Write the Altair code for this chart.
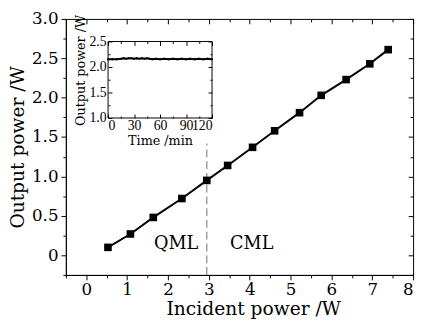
import altair as alt
import pandas as pd

# ---- data ----
incident = [0.53, 1.08, 1.64, 2.34, 2.95, 3.46, 4.07, 4.61, 5.22, 5.75, 6.36, 6.94, 7.39]
output = [0.10, 0.27, 0.48, 0.72, 0.95, 1.14, 1.37, 1.58, 1.81, 2.03, 2.23, 2.43, 2.61]

time_min = [0, 5, 10, 15, 18, 21, 24, 27, 30, 33, 36, 39, 42, 45, 48, 51, 55, 60,
            65, 70, 75, 80, 85, 90, 95, 100, 105, 110, 115, 120]
power_t = [2.15, 2.15, 2.15, 2.16, 2.17, 2.16, 2.17, 2.17, 2.16, 2.17, 2.16, 2.17,
           2.16, 2.17, 2.16, 2.15, 2.16, 2.15, 2.16, 2.15, 2.16, 2.15, 2.16, 2.15,
           2.16, 2.15, 2.16, 2.15, 2.16, 2.15]

x_ticks = [-0.5, 0, 0.5, 1, 1.5, 2, 2.5, 3, 3.5, 4, 4.5, 5, 5.5, 6, 6.5, 7, 7.5, 8]
y_ticks = [-0.25, 0, 0.25, 0.5, 0.75, 1.0, 1.25, 1.5, 1.75, 2.0, 2.25, 2.5, 2.75, 3.0]
x_domain = [-0.5, 8]
y_domain = [-0.25, 3.0]

inset_x_domain = [0, 120]
inset_y_domain = [1.0, 2.5]
inset_x_labels = [0, 30, 60, 90, 120]
inset_x_ticks = [0, 15, 30, 45, 60, 75, 90, 105, 120]
inset_y_labels = [1.0, 1.5, 2.0, 2.5]
inset_y_ticks = [1.0, 1.25, 1.5, 1.75, 2.0, 2.25, 2.5]

boundary = [2.95]
boundary_y = [-0.25, 1.42]
region_labels = ["QML", "CML"]
region_x = [2.2, 4.05]
region_y = [0.14, 0.14]

# ---- layout ----
W, H = 354, 261
FONT = "DejaVu Serif"
FONT2 = "Liberation Serif"
inset_px_x = [43, 149]
inset_px_y = [101, 23]

main_df = pd.DataFrame({"inc": incident, "out": output})
inset_df = pd.DataFrame({"t": time_min, "p": power_t})
rule_df = pd.DataFrame({"x": boundary, "y": [boundary_y[0]], "y2": [boundary_y[1]]})
text_df = pd.DataFrame({"label": region_labels, "x": region_x, "y": region_y})
frame_df = pd.DataFrame({"x": [inset_x_domain[0]], "x2": [inset_x_domain[1]],
                         "y": [inset_y_domain[0]], "y2": [inset_y_domain[1]]})

xs = alt.Scale(domain=x_domain, nice=False, zero=False)
ys = alt.Scale(domain=y_domain, nice=False, zero=False)
ixs = alt.Scale(domain=inset_x_domain, range=inset_px_x, nice=False, zero=False)
iys = alt.Scale(domain=inset_y_domain, range=inset_px_y, nice=False, zero=False)

x_major = "datum.value % 1 == 0"
y_major = "datum.value % 0.5 == 0"
x_tsize = {"condition": {"test": x_major, "value": 5}, "value": 3}
y_tsize = {"condition": {"test": y_major, "value": 5}, "value": 3}

common_axis = dict(tickColor="black", domainColor="black", labelColor="black",
                   titleColor="black", titleFont=FONT,
                   grid=False, titleFontWeight="normal")

# main line with labeled axes
main_line = alt.Chart(main_df).mark_line(color="black", strokeWidth=2).encode(
    x=alt.X("inc:Q", scale=xs, axis=alt.Axis(
        orient="bottom", values=x_ticks, tickSize=x_tsize, labelFont=FONT,
        labelExpr="datum.value % 1 == 0 ? format(datum.value, 'd') : ''",
        labelFontSize=17, labelPadding=2, title="Incident power  /W",
        titleFontSize=19, titlePadding=2, titleX=191, **common_axis)),
    y=alt.Y("out:Q", scale=ys, axis=alt.Axis(
        orient="left", values=y_ticks, tickSize=y_tsize, labelFont=FONT,
        labelExpr="datum.value % 0.5 == 0 ? (datum.value == 0 ? '0' : format(datum.value, '.1f')) : ''",
        labelFontSize=17, labelPadding=3, title="Output power /W",
        titleFontSize=19, titlePadding=4, **common_axis)),
)

# mirrored inward ticks on top and right
mirror = alt.Chart(main_df).mark_line(opacity=0).encode(
    x=alt.X("inc:Q", scale=xs, axis=alt.Axis(
        orient="bottom", offset=-H, values=x_ticks, tickSize=x_tsize,
        labels=False, domain=False, title=None, tickColor="black", grid=False)),
    y=alt.Y("out:Q", scale=ys, axis=alt.Axis(
        orient="left", offset=-W, values=y_ticks, tickSize=y_tsize,
        labels=False, domain=False, title=None, tickColor="black", grid=False)),
)

points = alt.Chart(main_df).mark_square(size=60, color="black", opacity=1).encode(
    x=alt.X("inc:Q", scale=xs, axis=None),
    y=alt.Y("out:Q", scale=ys, axis=None),
)

rule = alt.Chart(rule_df).mark_rule(color="#888888", strokeDash=[8, 4], strokeWidth=1.2).encode(
    x=alt.X("x:Q", scale=xs, axis=None),
    y=alt.Y("y:Q", scale=ys, axis=None),
    y2="y2:Q",
)

texts = alt.Chart(text_df).mark_text(font=FONT, fontSize=18, color="black",
                                     baseline="middle", align="center").encode(
    x=alt.X("x:Q", scale=xs, axis=None),
    y=alt.Y("y:Q", scale=ys, axis=None),
    text="label:N",
)

# inset
inset_frame = alt.Chart(frame_df).mark_rect(fillOpacity=0, stroke="black", strokeWidth=1).encode(
    x=alt.X("x:Q", scale=ixs, axis=alt.Axis(
        orient="bottom", offset=-(H - inset_px_y[0]), values=inset_x_labels,
        ticks=False, domain=False, labelFont=FONT2, labelFontSize=14, labelPadding=1,
        format="d", labelOverlap=False, labelBound=False,
        title="Time /min", titleFontSize=13, titlePadding=2, **common_axis)),
    x2="x2:Q",
    y=alt.Y("y:Q", scale=iys, axis=alt.Axis(
        orient="left", offset=-inset_px_x[0], values=inset_y_labels,
        ticks=False, domain=False, labelFont=FONT2, labelFontSize=14, labelPadding=2,
        format=".1f", labelOverlap=False,
        title="Output power /W", titleFontSize=13, titlePadding=2, titleY=52,
        **common_axis)),
    y2="y2:Q",
)

ix_tsize = {"condition": {"test": "datum.value % 30 == 0", "value": 4}, "value": 2}
iy_tsize = {"condition": {"test": "datum.value % 0.5 == 0", "value": 4}, "value": 2}

inset_ticks1 = alt.Chart(inset_df).mark_line(opacity=0).encode(
    x=alt.X("t:Q", scale=ixs, axis=alt.Axis(
        orient="top", offset=-inset_px_y[0], values=inset_x_ticks, tickSize=ix_tsize,
        labels=False, domain=False, title=None, tickColor="black", grid=False)),
    y=alt.Y("p:Q", scale=iys, axis=alt.Axis(
        orient="right", offset=-(W - inset_px_x[0]), values=inset_y_ticks, tickSize=iy_tsize,
        labels=False, domain=False, title=None, tickColor="black", grid=False)),
)

inset_ticks2 = alt.Chart(inset_df).mark_line(opacity=0).encode(
    x=alt.X("t:Q", scale=ixs, axis=alt.Axis(
        orient="bottom", offset=-(H - inset_px_y[1]), values=inset_x_ticks, tickSize=ix_tsize,
        labels=False, domain=False, title=None, tickColor="black", grid=False)),
    y=alt.Y("p:Q", scale=iys, axis=alt.Axis(
        orient="left", offset=-inset_px_x[1], values=inset_y_ticks, tickSize=iy_tsize,
        labels=False, domain=False, title=None, tickColor="black", grid=False)),
)

inset_line = alt.Chart(inset_df).mark_line(color="black", strokeWidth=2).encode(
    x=alt.X("t:Q", scale=ixs, axis=None),
    y=alt.Y("p:Q", scale=iys, axis=None),
)
inset_pts = alt.Chart(inset_df).mark_circle(color="black", size=5, opacity=1).encode(
    x=alt.X("t:Q", scale=ixs, axis=None),
    y=alt.Y("p:Q", scale=iys, axis=None),
)

chart = alt.layer(
    main_line, mirror, rule, points, texts,
    inset_frame, inset_ticks1, inset_ticks2, inset_line, inset_pts,
).resolve_scale(x="independent", y="independent").properties(
    width=W, height=H,
    autosize=alt.AutoSizeParams(type="none"),
    padding={"left": 59, "top": 8, "right": 5, "bottom": 53},
    background="white",
).configure_view(stroke="black", strokeWidth=1)

chart.save("out.html", embed_options={"renderer": "svg", "actions": False})
